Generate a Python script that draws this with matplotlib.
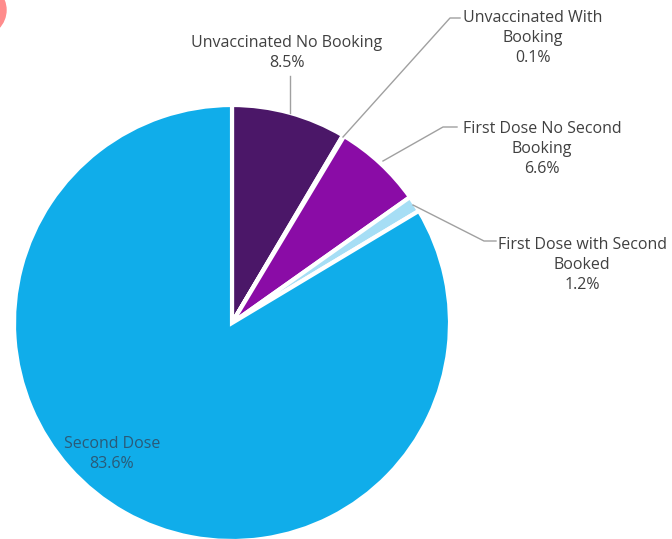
"""Pie chart of vaccination status."""

import matplotlib.pyplot as plt
from matplotlib.patches import Circle

# data
labels = [
    "Unvaccinated No Booking",
    "Unvaccinated With\nBooking",
    "First Dose No Second\nBooking",
    "First Dose with Second\nBooked",
    "Second Dose",
]
shares = [8.5, 0.1, 6.6, 1.2, 83.6]
colours = ["#4b1768", "#5a1a7a", "#8a0ca6", "#a6def5", "#10adea"]

H = 539  # figure height in px, used to flip y

fig = plt.figure(figsize=(6.72, 5.39), dpi=100)
ax = fig.add_axes([0, 0, 1, 1])

centre = (232, H - 323)
wedges, _ = ax.pie(
    shares,
    colors=colours,
    startangle=90,
    counterclock=False,
    center=centre,
    radius=218,
    wedgeprops={"edgecolor": "white", "linewidth": 3},
    frame=True,
)
ax.set_xlim(0, 672)
ax.set_ylim(0, H)
ax.set_aspect("equal")
ax.axis("off")

# red blob in the corner
ax.add_patch(Circle((-20, H - 10), 26, color="#ff8c8c", clip_on=True))

txt = dict(fontsize=11.5, color="#404040", ha="center", va="center",
           family="Open Sans", linespacing=1.35)
line = dict(color="#a0a0a0", linewidth=1)

# label text, with leader lines
ax.text(287, H - 53, f"{labels[0]}\n{shares[0]}%", **txt)
ax.plot([290, 290], [H - 76, H - 113], **line)

ax.text(533, H - 38, f"{labels[1]}\n{shares[1]}%", **txt)
ax.plot([343, 450, 460], [H - 137, H - 18, H - 18], **line)

ax.text(542, H - 149, f"{labels[2]}\n{shares[2]}%", **txt)
ax.plot([383, 443, 457], [H - 161, H - 127, H - 127], **line)

ax.text(582, H - 265, f"{labels[3]}\n{shares[3]}%", **txt)
ax.plot([413, 484, 496], [H - 205, H - 241, H - 241], **line)

ax.text(112, H - 454, f"{labels[4]}\n{shares[4]}%", fontsize=11.5,
        color="#2a5a78", ha="center", va="center", family="Open Sans",
        linespacing=1.35)

fig.savefig("out.png", dpi=100)
